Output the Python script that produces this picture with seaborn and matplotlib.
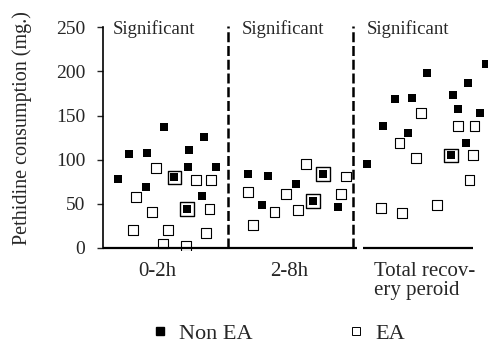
import numpy as np
import pandas as pd
import matplotlib.pyplot as plt
import seaborn as sns
from matplotlib.lines import Line2D

sns.set_style("white")
plt.rcParams['font.family'] = ['Liberation Serif', 'DejaVu Serif']

# x position inside the 3 periods (0-1 = 0-2h, 1-2 = 2-8h, 2-3 = total)
non_ea_x = [0.49, 0.81, 0.21, 0.35, 0.69, 0.12, 0.68, 0.90, 0.34, 0.79, 0.57, 0.67,
            1.16, 1.32, 1.54, 1.27, 1.88, 1.76, 1.68,
            3.06, 2.59, 2.92, 2.80, 2.33, 2.47, 2.84, 3.01, 2.24, 2.44, 2.90, 2.11, 2.78]
non_ea_y = [137, 126, 107, 108, 111, 78, 92, 92, 69, 59, 80, 44,
            84, 82, 72, 49, 47, 84, 53,
            209, 198, 187, 173, 169, 170, 158, 153, 138, 130, 119, 95, 105]

ea_x = [0.42, 0.57, 0.74, 0.86, 0.26, 0.39, 0.67, 0.85, 0.24, 0.52, 0.82, 0.48, 0.66,
        1.62, 1.76, 1.94, 1.16, 1.46, 1.90, 1.37, 1.56, 1.68, 1.20,
        2.54, 2.84, 2.97, 2.37, 2.50, 2.78, 2.96, 2.93, 2.22, 2.39, 2.67]
ea_y = [91, 80, 77, 77, 58, 41, 44, 44, 20, 20, 17, 5, 2,
        95, 84, 81, 63, 61, 61, 41, 43, 53, 26,
        153, 138, 138, 119, 102, 105, 105, 77, 45, 40, 49]

periods = ['0-2h', '2-8h', 'Total recov-\nery peroid']
period_pos = [0.43, 1.49, 2.57]
yticks = [0, 50, 100, 150, 200, 250]

df_non = pd.DataFrame({'x': non_ea_x, 'y': non_ea_y})
df_ea = pd.DataFrame({'x': ea_x, 'y': ea_y})
# EA squares that sit on top of a Non EA point are drawn bigger
pairs = set(zip(non_ea_x, non_ea_y))
df_ea['big'] = [(a, b) in pairs for a, b in zip(ea_x, ea_y)]

fig = plt.figure(figsize=(4.89, 3.53), dpi=100)
ax = fig.add_axes([0.211, 0.290, 0.785, 0.645])

sns.scatterplot(data=df_ea[~df_ea['big']], x='x', y='y', marker='s', s=50,
                facecolor='none', edgecolor='black', linewidth=0.8, ax=ax)
sns.scatterplot(data=df_ea[df_ea['big']], x='x', y='y', marker='s', s=95,
                facecolor='none', edgecolor='black', linewidth=1.0, ax=ax)
sns.scatterplot(data=df_non, x='x', y='y', marker='s', s=26,
                color='black', edgecolor='black', linewidth=0, ax=ax)

ax.set_xlim(0, 3.07)
ax.set_ylim(-3, 255)

for s in ['top', 'right', 'bottom']:
    ax.spines[s].set_visible(False)
ax.spines['left'].set_bounds(0, 250)
ax.spines['left'].set_linewidth(1.2)
ax.spines['left'].set_color('black')

# bottom line in three pieces, dashed separators
for a, b in [(0, 1.02), (1.02, 2.03), (2.08, 2.96)]:
    ax.plot([a, b], [0, 0], color='black', lw=1.6, solid_capstyle='butt', clip_on=False)
for xv in [1.0, 2.0]:
    ax.plot([xv, xv], [0, 252], color='black', lw=1.8, dashes=(4, 1.5))

for xv in [0.08, 1.11, 2.11]:
    ax.text(xv, 248, 'Significant', fontsize=13.5, ha='left', va='center')

ax.set_yticks(yticks)
ax.set_yticklabels([str(v) for v in yticks], fontsize=14)
ax.tick_params(axis='y', direction='out', length=4, width=1, pad=9, left=True)
ax.set_xticks(period_pos)
ax.set_xticklabels(periods, fontsize=15, linespacing=1.0)
ax.get_xticklabels()[2].set_multialignment('left')
ax.tick_params(axis='x', length=0, pad=8)
ax.set_xlabel('')
ax.set_ylabel('Pethidine consumption (mg.)', fontsize=14.5)
ax.yaxis.set_label_coords(-0.185, 0.54)

handles = [Line2D([], [], marker='s', ls='none', color='black', markersize=6),
           Line2D([], [], marker='s', ls='none', markerfacecolor='none',
                  markeredgecolor='black', markeredgewidth=0.7, markersize=6)]
fig.legend(handles, ['Non EA', 'EA'], loc='center', bbox_to_anchor=(0.57, 0.055),
           ncol=2, frameon=False, fontsize=16, handlelength=0.7, handletextpad=0.5,
           columnspacing=4.3)

fig.savefig('out.png', dpi=100)
